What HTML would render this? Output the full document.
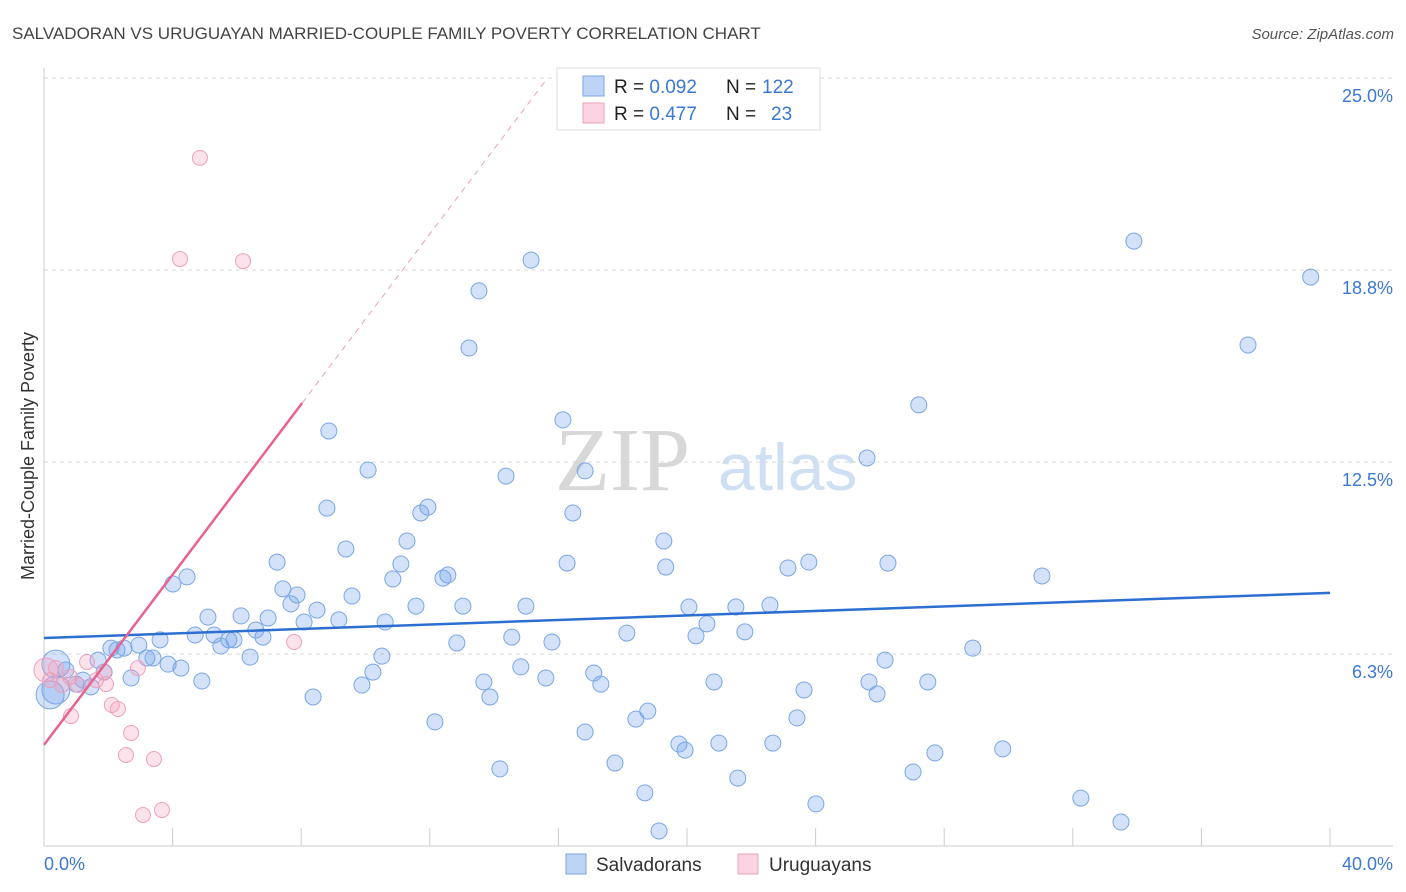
<!DOCTYPE html>
<html><head><meta charset="utf-8">
<style>
body{margin:0;background:#fff;font-family:"Liberation Sans",sans-serif;}
#wrap{position:relative;width:1406px;height:892px;overflow:hidden;}
svg{position:absolute;left:0;top:0;}
</style></head>
<body>
<div id="wrap">
<svg id="chart" width="1406" height="892"></svg>
</div>
<script>
const blueX=[33.9,39.4,37.45,15.15,13.53,13.22,27.21,16.14,8.86,25.6,10.08,14.37,16.83,8.8,11.94,11.72,16.45,11.29,9.39,19.28,7.25,16.27,11.1,12.56,12.41,10.85,19.34,23.79,23.14,26.25,31.04,4.45,4.01,7.43,7.87,9.58,7.68,11.57,13.03,14.99,8.49,5.1,6.13,6.97,9.17,8.09,10.61,20.06,21.52,22.58,20.62,18.13,20.28,21.8,6.59,4.7,5.29,5.75,5.91,6.81,3.61,2.08,2.49,2.27,2.95,5.5,3.2,3.39,3.86,4.26,6.41,14.55,12.84,15.8,10.51,26.16,28.89,0.37,0.68,1.68,1.87,1.46,1.0,2.71,4.91,10.23,9.89,8.37,13.68,13.87,14.83,15.61,17.1,17.32,20.84,23.64,25.66,25.91,27.49,12.16,18.41,18.78,23.42,16.83,19.75,19.94,20.99,22.67,27.71,29.82,14.18,17.76,21.58,27.03,18.69,24.01,32.25,33.5,19.13,0.19,0.37,1.21];
const blueY=[19.69,18.52,16.31,19.07,18.07,16.21,14.36,13.87,13.51,12.63,12.24,12.04,12.21,11.0,11.03,10.84,10.84,9.93,9.67,9.93,9.24,9.21,9.18,8.82,8.72,8.69,9.08,9.24,9.05,9.21,8.79,8.76,8.53,8.37,8.17,8.14,7.88,7.81,7.81,7.81,7.68,7.45,7.49,7.42,7.36,7.29,7.29,7.78,7.78,7.84,7.23,6.93,6.84,6.97,7.03,6.87,6.87,6.71,6.71,6.8,6.71,6.44,6.44,6.38,6.54,6.51,6.12,6.12,5.92,5.79,6.15,6.8,6.61,6.64,6.18,6.05,6.44,5.92,5.73,6.05,5.66,5.18,5.27,5.47,5.37,5.66,5.24,4.85,5.34,4.85,5.83,5.47,5.63,5.27,5.34,5.08,5.34,4.95,5.34,4.04,4.13,4.39,4.17,3.71,3.32,3.12,3.35,3.35,3.03,3.16,2.51,2.7,2.21,2.41,1.73,1.37,1.56,0.78,0.49,4.92,5.08,5.4];
const blueBig=[0,0,0,0,0,0,0,0,0,0,0,0,0,0,0,0,0,0,0,0,0,0,0,0,0,0,0,0,0,0,0,0,0,0,0,0,0,0,0,0,0,0,0,0,0,0,0,0,0,0,0,0,0,0,0,0,0,0,0,0,0,0,0,0,0,0,0,0,0,0,0,0,0,0,0,0,0,1,0,0,0,0,0,0,0,0,0,0,0,0,0,0,0,0,0,0,0,0,0,0,0,0,0,0,0,0,0,0,0,0,0,0,0,0,0,0,0,0,0,1,1,0];
const pinkX=[4.85,4.23,6.19,7.78,2.92,1.87,1.34,0.37,0.06,0.81,1.06,1.93,2.11,2.3,0.84,2.71,2.55,3.42,3.67,3.08,0.56,1.62,0.19];
const pinkY=[22.4,19.11,19.04,6.64,5.79,5.66,5.99,5.79,5.73,5.5,5.24,5.27,4.59,4.46,4.23,3.68,2.96,2.83,1.17,1.01,5.24,5.4,5.4];
const yTicks=[6.25,12.5,18.75,25];
const yTickLabels=["6.3%","12.5%","18.8%","25.0%"];
const xTicks=[0,4,8,12,16,20,24,28,32,36,40];
const blueTrend=[6.77,8.24];
const pinkTrend=[3.29,1.386];

const L=44,R=1330,B=846,T=78;
const sx=v=>L+v/40*(R-L);
const sy=v=>B-v/25*(B-T);
const svg=document.getElementById('chart');
const NS='http://www.w3.org/2000/svg';
function mk(tag,attrs,parent){const e=document.createElementNS(NS,tag);for(const k in attrs)e.setAttribute(k,attrs[k]);(parent||svg).appendChild(e);return e;}

let t=mk('text',{x:12,y:39,'font-size':17,fill:'#444'});t.textContent='SALVADORAN VS URUGUAYAN MARRIED-COUPLE FAMILY POVERTY CORRELATION CHART';

t=mk('text',{x:1394,y:39,'font-size':15,fill:'#555','text-anchor':'end','font-style':'italic'});t.textContent='Source: ZipAtlas.com';


// watermark
t=mk('text',{x:555,y:490,'font-size':90,fill:'#d8d8d8','font-family':'Liberation Serif,serif'});t.textContent='ZIP';

t=mk('text',{x:718,y:490,'font-size':66,fill:'#cfdff4'});t.textContent='atlas';


yTicks.forEach((v,i)=>{
 const g=mk('line',{x1:L,x2:1393,y1:sy(v),y2:sy(v),stroke:'#d8d8d8','stroke-dasharray':'4,4'});
 
 const lb=mk('text',{x:1393,y:sy(v)+24,'font-size':18,fill:'#3a78d4','text-anchor':'end'});lb.textContent=yTickLabels[i];
 
});
let a=mk('line',{x1:L,x2:L,y1:68,y2:846,stroke:'#ccc'});
a=mk('line',{x1:L,x2:1393,y1:846,y2:846,stroke:'#ccc'});
xTicks.forEach(v=>{const k=mk('line',{x1:sx(v),x2:sx(v),y1:828,y2:846,stroke:'#ccc'});});
t=mk('text',{x:44,y:870,'font-size':18,fill:'#3a78d4'});t.textContent='0.0%';
t=mk('text',{x:1393,y:870,'font-size':18,fill:'#3a78d4','text-anchor':'end'});t.textContent='40.0%';
t=mk('text',{x:34,y:456,'font-size':18,fill:'#333','text-anchor':'middle',transform:'rotate(-90 34 456)'});t.textContent='Married-Couple Family Poverty';


blueX.forEach((x,i)=>{const r=blueBig[i]?14:8;const c=mk('circle',{cx:sx(x),cy:sy(blueY[i]),r:r,fill:'rgba(110,160,235,0.3)',stroke:'#7aa6e6','stroke-width':1});
 });
pinkX.forEach((x,i)=>{const r=i==8?12:7.5;const c=mk('circle',{cx:sx(x),cy:sy(pinkY[i]),r:r,fill:'rgba(245,160,190,0.3)',stroke:'#eea0ba','stroke-width':1});
 });

let ln=mk('line',{x1:sx(0),y1:sy(blueTrend[0]),x2:sx(40),y2:sy(blueTrend[1]),stroke:'#2c6fd1','stroke-width':2.5});

const pe=(25-pinkTrend[0])/pinkTrend[1];
ln=mk('line',{x1:sx(0),y1:sy(pinkTrend[0]),x2:sx(8.03),y2:sy(pinkTrend[0]+pinkTrend[1]*8.03),stroke:'#e8628f','stroke-width':2.5});

ln=mk('line',{x1:sx(8.03),y1:sy(pinkTrend[0]+pinkTrend[1]*8.03),x2:sx(pe),y2:sy(25),stroke:'#eaa0b8','stroke-width':1,'stroke-dasharray':'6,5'});


let lg=mk('rect',{x:557,y:68,width:263,height:62,fill:'#fff',stroke:'#ddd'});
function legRow(y,fill,stroke,r,n,name,nx){
 const s=mk('rect',{x:583,y:y-10,width:21,height:20,fill:fill,stroke:stroke});
 const tx=mk('text',{x:614,y:y+7,'font-size':19,fill:'#222'});
 tx.innerHTML='R = <tspan fill="#3a78d4">'+r+'</tspan><tspan x="726">N = </tspan><tspan x="'+nx+'" fill="#3a78d4">'+n+'</tspan>';
}
legRow(86,'rgba(110,160,235,0.45)','#7aa6e6','0.092','122','salvadoran',762);
legRow(113,'rgba(245,160,190,0.45)','#eea0ba','0.477','23','uruguayan',771);

let s=mk('rect',{x:566,y:854,width:20,height:20,fill:'rgba(110,160,235,0.45)',stroke:'#7aa6e6'});
t=mk('text',{x:596,y:871,'font-size':19,fill:'#333'});t.textContent='Salvadorans';
s=mk('rect',{x:738,y:854,width:20,height:20,fill:'rgba(245,160,190,0.45)',stroke:'#eea0ba'});
t=mk('text',{x:769,y:871,'font-size':19,fill:'#333'});t.textContent='Uruguayans';
</script>
</body></html>
